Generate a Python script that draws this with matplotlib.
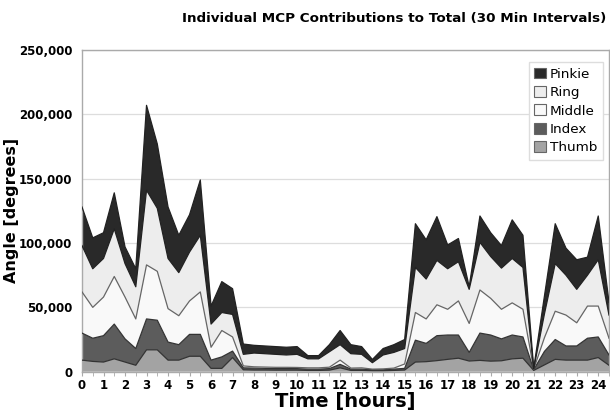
import numpy as np
import matplotlib
matplotlib.use('Agg')
import matplotlib.pyplot as plt
from matplotlib.patches import Patch
from matplotlib.ticker import FuncFormatter, MultipleLocator

# half-hour intervals, 0 .. 24.5 h
hours = [i * 0.5 for i in range(50)]

# per-finger contributions (thousands of degrees)
thumb = [9, 8, 7.5, 10, 7.5, 5, 17, 17, 9, 9, 12, 12, 2.6, 2.6, 11, 1.5, 1.3, 1.3, 1.2, 1.2,
         1.2, 1.0, 1.0, 1.2, 3, 1.0, 1.0, 0.8, 0.8, 1.0, 1.3, 7.5, 7.8, 8.6, 9.6, 10.5, 8.3, 8.8, 8.2, 8.5,
         10, 10.5, 1.0, 5.3, 9.6, 9, 9, 9, 11, 5]
index = [21, 18, 20.5, 27, 18, 13, 24, 23, 14, 12, 17, 17, 6.4, 8.9, 5, 1.5, 1.5, 1.3, 1.2, 1.2,
         1.2, 1.0, 1.0, 1.2, 2.7, 1.0, 1.0, 0.7, 0.7, 1.0, 1.3, 17, 14.2, 19.4, 18.9, 18, 6.7, 21.2, 20.3, 17,
         18.5, 16.5, 0.6, 10.5, 15.4, 11, 11, 17, 16, 8]
middle = [32, 24, 30, 37, 32.5, 23, 42, 38, 26, 22.5, 26, 33, 10, 20.5, 11, 1.5, 1.0, 1.0, 1.0, 1.0,
          0.9, 1.0, 1.0, 1.1, 3.3, 0.8, 1.0, 0.5, 0.7, 0.8, 3.4, 21.5, 19, 24, 20, 26.5, 22.5, 33.5, 28.5, 23,
          25, 21.5, 0.4, 10.7, 22, 24, 18, 25, 24, 13]
ring = [36, 30, 30, 37, 26, 25, 58, 49, 39, 33.5, 38, 44, 18, 14, 17.5, 9, 10.7, 10.4, 10.1, 9.6,
        10.2, 7, 7, 12, 12, 11.2, 10.5, 5, 10.8, 12.2, 12, 35, 31, 34.5, 31.5, 30.5, 26.5, 37, 32.5, 32,
        34.5, 32.5, 0.3, 18.5, 37, 31, 26, 24, 36, 18]
pinkie = [30, 24, 20, 28, 13, 14, 66, 50, 40, 29, 29, 43, 14, 24, 20, 8, 6, 6, 6, 6,
          6, 2.5, 2.5, 5.5, 11, 7, 6, 2.5, 5, 6, 7, 34, 30.5, 34, 18.5, 18, 2, 20.5, 18.5, 17.5,
          30, 25, 0.3, 14, 31, 21, 23, 14, 34, 10]

names = ['Thumb', 'Index', 'Middle', 'Ring', 'Pinkie']
fills = ['#a3a3a3', '#5c5c5c', '#f9f9f9', '#ededed', '#292929']
edges = ['#333333', '#333333', '#666666', '#222222', '#222222']

plt.rcParams['font.family'] = ['DejaVu Sans']
plt.rcParams['font.weight'] = 'bold'

fig = plt.figure(figsize=(6.1, 4.17), dpi=100)
ax = fig.add_axes([82 / 610, 45.3 / 417, 527 / 610, 321.7 / 417])

series = [np.array(s) * 1000 for s in (thumb, index, middle, ring, pinkie)]
ax.stackplot(hours, *series, colors=fills, linewidth=0, zorder=2)
tops = np.cumsum(series, axis=0)
for top, ec in zip(tops, edges):
    ax.plot(hours, top, color=ec, linewidth=0.9, zorder=3)

ax.set_xlim(0, 24.5)
ax.set_ylim(0, 250000)
ax.yaxis.set_major_locator(MultipleLocator(50000))
ax.yaxis.set_major_formatter(FuncFormatter(lambda v, p: f'{int(v):,}'))
ax.xaxis.set_major_locator(MultipleLocator(1))
ax.xaxis.set_minor_locator(MultipleLocator(0.5))
ax.grid(axis='y', color='#dddddd', linewidth=0.9, zorder=0)
ax.set_axisbelow(True)

ax.tick_params(axis='x', which='both', length=3, color='#aaaaaa', labelsize=8.5, pad=2)
ax.tick_params(axis='y', length=0, labelsize=8.5, pad=7)
for lab in ax.get_xticklabels() + ax.get_yticklabels():
    lab.set_fontweight('bold')
for sp in ax.spines.values():
    sp.set_color('#aaaaaa')
    sp.set_linewidth(1)

ax.set_xlabel('Time [hours]', fontsize=14, fontweight='bold', labelpad=0)
ax.set_ylabel('Angle [degrees]', fontsize=11.5, fontweight='bold')
ax.yaxis.set_label_coords(-0.12, 0.5)

fig.text(0.646, 0.955, 'Individual MCP Contributions to Total (30 Min Intervals)',
         ha='center', va='center', fontsize=9.7, fontweight='bold')

handles = [Patch(facecolor=f, edgecolor='#666666', linewidth=0.8) for f in fills]
leg = ax.legend(handles[::-1], names[::-1], loc='upper right', bbox_to_anchor=(0.988, 0.962),
                borderaxespad=0, labelspacing=0.4, handlelength=0.85,
                handleheight=0.85, handletextpad=0.3, borderpad=0.4, fancybox=False,
                framealpha=1, edgecolor='#dddddd', prop={'weight': 'normal', 'size': 9.7})

fig.savefig('out.png', dpi=100, facecolor='white')
